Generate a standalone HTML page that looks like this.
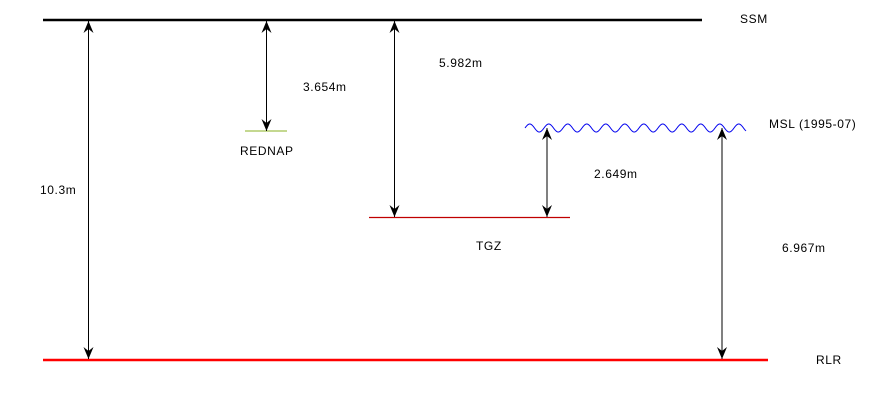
<!DOCTYPE html>
<html><head><meta charset="utf-8"><style>
html,body{margin:0;padding:0;background:#fff;}
svg{display:block;}
text{font-family:"Liberation Sans",sans-serif;font-size:12px;fill:#000;letter-spacing:0.6px;}
</style></head><body>
<svg width="875" height="400" viewBox="0 0 875 400" xmlns="http://www.w3.org/2000/svg">
<defs>
<marker id="ah" markerWidth="12" markerHeight="10" refX="12" refY="5" orient="auto-start-reverse" markerUnits="userSpaceOnUse">
<path d="M0,0 L12,5 L0,10 L4,5 Z" fill="#000"/>
</marker>
</defs>
<line x1="43" y1="20" x2="702" y2="20" stroke="#000" stroke-width="2.5"/>
<line x1="43" y1="360" x2="768" y2="360" stroke="#f00" stroke-width="2.5"/>
<line x1="245" y1="131" x2="287" y2="131" stroke="#8ab020" stroke-width="1"/>
<line x1="369" y1="217.5" x2="570" y2="217.5" stroke="#c00000" stroke-width="1.3"/>
<path id="w" fill="none" stroke="#0000ee" stroke-width="1" d=""/>
<g stroke="#000" stroke-width="1" marker-start="url(#ah)" marker-end="url(#ah)">
<line x1="88.5" y1="21" x2="88.5" y2="359"/>
<line x1="266.5" y1="21" x2="266.5" y2="131"/>
<line x1="394.5" y1="21" x2="394.5" y2="217"/>
<line x1="547" y1="128" x2="547" y2="217"/>
<line x1="722" y1="128" x2="722" y2="359"/>
</g>
<text x="740" y="23">SSM</text>
<text x="303" y="91">3.654m</text>
<text x="439" y="67">5.982m</text>
<text x="240" y="155">REDNAP</text>
<text x="769" y="128">MSL (1995-07)</text>
<text x="594" y="178">2.649m</text>
<text x="40" y="194">10.3m</text>
<text x="476" y="250">TGZ</text>
<text x="782" y="252">6.967m</text>
<text x="816" y="364">RLR</text>
</svg>
<script>
(function(){var d="";var x0=525,x1=746,P=19,c=128,a=4;for(var x=x0;x<=x1;x+=0.5){var y=c-a*Math.sin((x-x0)/P*2*Math.PI);d+=(x==x0?"M":"L")+x+","+y.toFixed(2)+" ";}document.getElementById("w").setAttribute("d",d);})();
</script>
</body></html>
